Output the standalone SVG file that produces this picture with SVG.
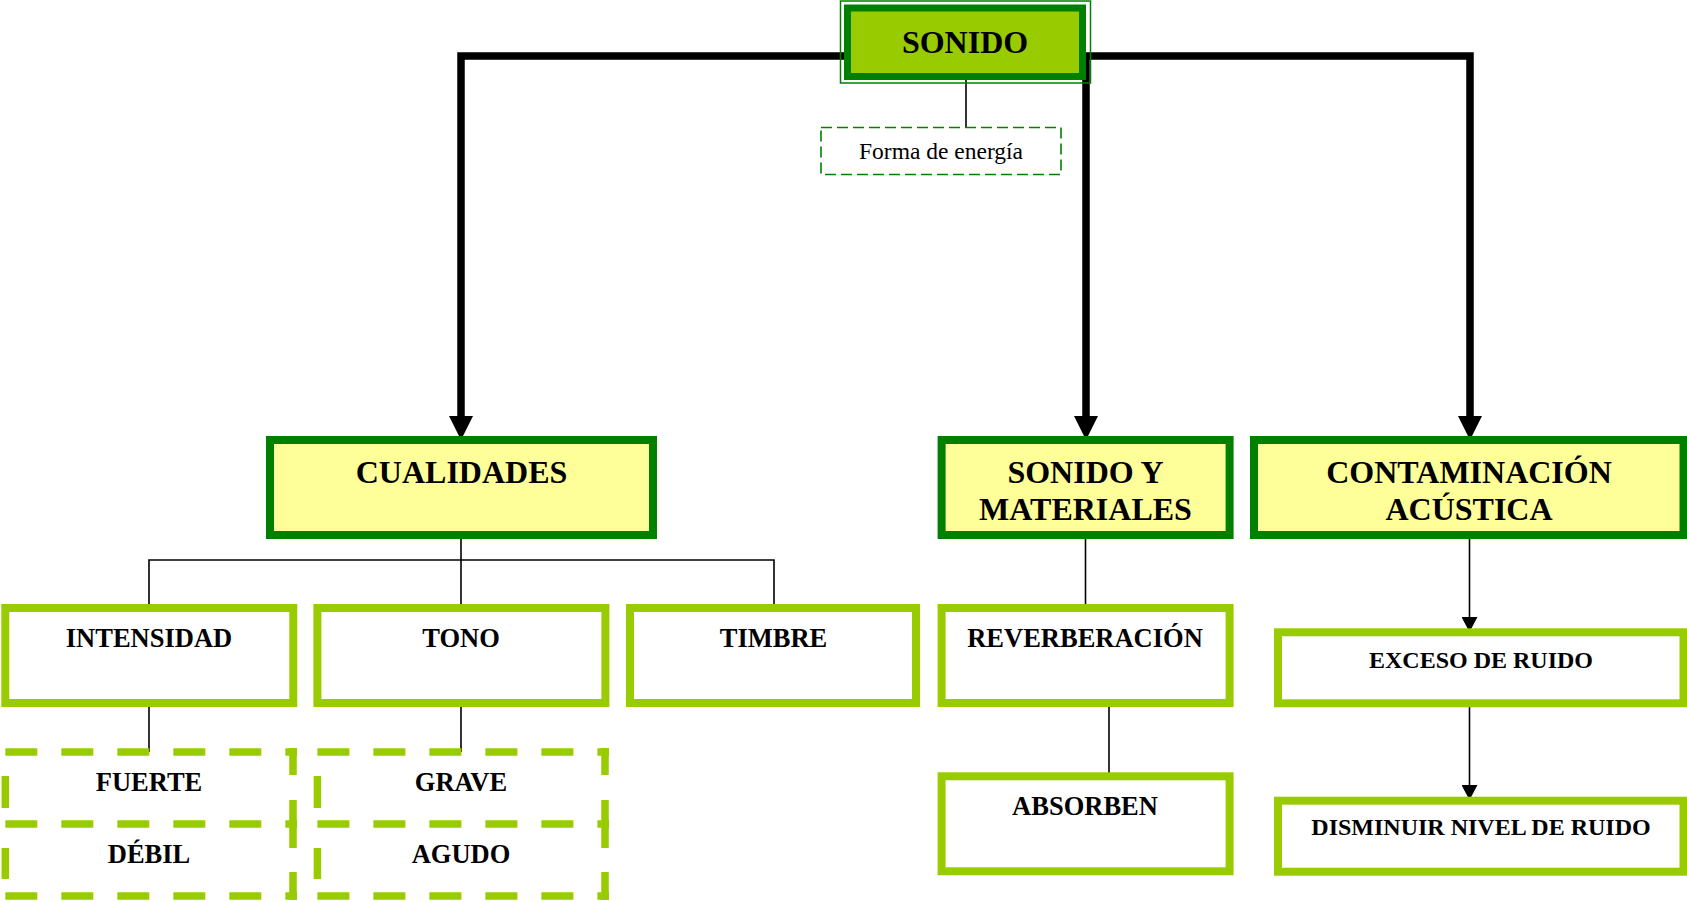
<svg xmlns="http://www.w3.org/2000/svg" width="1687" height="901" viewBox="0 0 1687 901">
<style>
.t{font-family:"Liberation Serif","Times New Roman",serif;font-weight:bold;fill:#000;text-anchor:middle}
.h{font-size:32px}
.m{font-size:26.5px}
.s{font-size:24px}
.r{font-family:"Liberation Serif","Times New Roman",serif;font-size:23.5px;fill:#000;text-anchor:middle}
.dk{fill:#FFFF99;stroke:#008000;stroke-width:8}
.lm{fill:#fff;stroke:#99CC00;stroke-width:8}
.ds{fill:none;stroke:#99CC00;stroke-width:7.5;stroke-dasharray:32 24}
.dv{fill:none;stroke:#99CC00;stroke-width:7.5}
.thick{fill:none;stroke:#000;stroke-width:7.5;stroke-linejoin:miter}
.thin{fill:none;stroke:#000;stroke-width:1.6}
</style>
<defs>
<marker id="big" markerUnits="userSpaceOnUse" markerWidth="24" markerHeight="24" viewBox="0 0 24 24" refX="0" refY="12" orient="auto"><path d="M0,0 L24,12 L0,24 z" fill="#000"/></marker>
<marker id="sm" markerUnits="userSpaceOnUse" markerWidth="15" markerHeight="16" viewBox="0 0 15 16" refX="0" refY="8" orient="auto"><path d="M0,0 L15,8 L0,16 z" fill="#000"/></marker>
</defs>
<rect width="1687" height="901" fill="#fff"/>
<g id="connectors">
<path class="thick" d="M845,56 H461 V416" marker-end="url(#big)"/>
<path class="thick" d="M1086,56 V416" marker-end="url(#big)"/>
<path class="thick" d="M1083,56 H1470 V416" marker-end="url(#big)"/>
<path class="thin" d="M966,80 V128"/>
<path class="thin" d="M461,539 V608"/>
<path class="thin" d="M149,608 V560 H774 V608"/>
<path class="thin" d="M149,707 V752"/>
<path class="thin" d="M461,707 V752"/>
<path class="thin" d="M1085.5,539 V608"/>
<path class="thin" d="M1109,707 V776"/>
<path class="thin" d="M1469.5,539 V617" marker-end="url(#sm)"/>
<path class="thin" d="M1469.5,707 V785" marker-end="url(#sm)"/>
</g>
<g id="sonido">
<rect x="840.5" y="1" width="250" height="82" fill="none" stroke="#008000" stroke-width="1.5"/>
<rect x="847.5" y="8" width="235" height="68.5" fill="#99CC00" stroke="#008000" stroke-width="7"/>
<text class="t h" x="965" y="53">SONIDO</text>
</g>
<g id="forma">
<rect x="821" y="127.5" width="240" height="47" fill="#fff" stroke="#008000" stroke-width="1.6" stroke-dasharray="11 5"/>
<text class="r" x="941" y="159">Forma de energía</text>
</g>
<g id="cualidades">
<rect class="dk" x="270" y="440" width="383" height="95"/>
<text class="t h" x="461.5" y="483">CUALIDADES</text>
</g>
<g id="sonido-materiales">
<rect class="dk" x="941.6" y="440" width="288" height="95"/>
<text class="t h" x="1085.5" y="483">SONIDO Y</text>
<text class="t h" x="1085.5" y="520">MATERIALES</text>
</g>
<g id="contaminacion">
<rect class="dk" x="1254" y="440" width="429.5" height="95"/>
<text class="t h" x="1469" y="483">CONTAMINACIÓN</text>
<text class="t h" x="1469" y="520">ACÚSTICA</text>
</g>
<g id="intensidad">
<rect class="lm" x="5.3" y="608" width="288" height="95"/>
<text class="t m" x="149" y="647">INTENSIDAD</text>
</g>
<g id="tono">
<rect class="lm" x="317.4" y="608" width="288" height="95"/>
<text class="t m" x="461" y="647">TONO</text>
</g>
<g id="timbre">
<rect class="lm" x="630" y="608" width="286" height="95"/>
<text class="t m" x="773.5" y="647">TIMBRE</text>
</g>
<g id="reverberacion">
<rect class="lm" x="941.6" y="608" width="288" height="95"/>
<text class="t m" x="1085" y="647">REVERBERACIÓN</text>
</g>
<g id="absorben">
<rect class="lm" x="941.6" y="776.3" width="288" height="95"/>
<text class="t m" x="1085" y="815">ABSORBEN</text>
</g>
<g id="exceso">
<rect class="lm" x="1278" y="632.3" width="405.5" height="71"/>
<text class="t s" x="1481" y="668">EXCESO DE RUIDO</text>
</g>
<g id="disminuir">
<rect class="lm" x="1278" y="800.7" width="405.5" height="71"/>
<text class="t s" x="1481" y="835">DISMINUIR NIVEL DE RUIDO</text>
</g>
<g id="fuerte">
<path class="ds" d="M5.3,752 H297 M5.3,824 H297"/>
<path class="dv" d="M5.3,776 V808 M293,748 V775 M293,800 V824"/>
<text class="t m" x="149" y="791">FUERTE</text>
</g>
<g id="debil">
<path class="ds" d="M5.3,896 H297"/>
<path class="dv" d="M5.3,848 V879 M293,824 V848 M293,872 V900"/>
<text class="t m" x="149" y="863">DÉBIL</text>
</g>
<g id="grave">
<path class="ds" d="M317.4,752 H609 M317.4,824 H609"/>
<path class="dv" d="M317.4,776 V808 M605,748 V775 M605,800 V824"/>
<text class="t m" x="461" y="791">GRAVE</text>
</g>
<g id="agudo">
<path class="ds" d="M317.4,896 H609"/>
<path class="dv" d="M317.4,848 V879 M605,824 V848 M605,872 V900"/>
<text class="t m" x="461" y="863">AGUDO</text>
</g>
</svg>
